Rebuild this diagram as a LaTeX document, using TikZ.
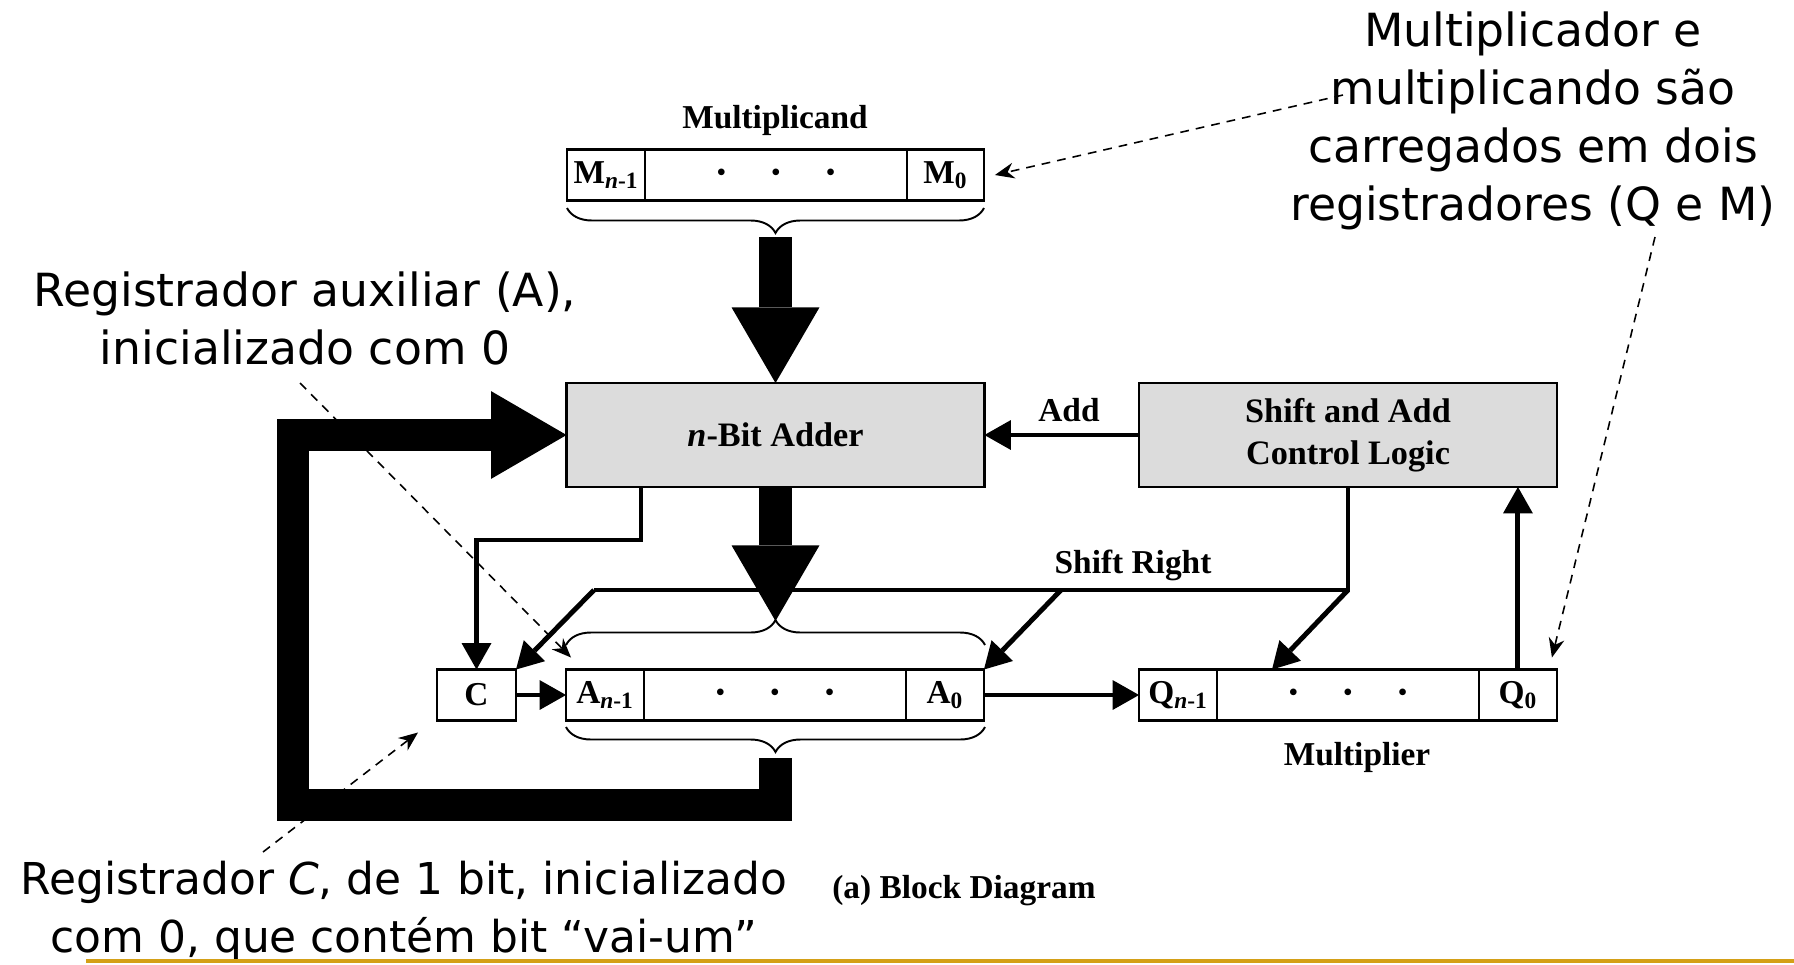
\documentclass[tikz,border=0pt]{standalone}
\usepackage{fontspec}
\setmainfont{Liberation Serif}
\newfontfamily\notefont{DejaVu Sans}
\usetikzlibrary{arrows.meta,decorations.pathreplacing,positioning}
\definecolor{rulegold}{RGB}{212,160,23}
\definecolor{boxgray}{RGB}{220,220,220}
\newcommand{\regdots}{{\fontsize{14}{14}\selectfont\textbullet\hspace{0.92cm}\textbullet\hspace{0.92cm}\textbullet}}

\begin{document}
\begin{tikzpicture}[x=0.02cm,y=-0.02cm]
\tikzstyle{every node}+=[inner sep=0pt]
\tikzstyle{cell}=[draw,line width=1.3pt,outer sep=0pt,minimum height=1.02cm,font=\fontsize{19}{21}\selectfont\bfseries]
\tikzstyle{unit}=[draw,line width=1.3pt,outer sep=0pt,fill=boxgray,minimum width=8.36cm,minimum height=2.08cm,align=center,font=\fontsize{19.5}{24}\selectfont\bfseries]
\tikzstyle{lbl}=[font=\fontsize{19}{21}\selectfont\bfseries]
\tikzstyle{wire}=[line width=2.8pt,-{Triangle[length=15pt,width=17pt,line width=0pt]}]
\tikzstyle{bus}=[line width=18.7pt,-{Triangle[length=43pt,width=50pt,line width=0pt]}]
\tikzstyle{brc}=[decorate,decoration={brace,amplitude=0.5cm},line width=1.1pt]
\tikzstyle{note}=[align=center,font=\notefont\fontsize{26}{33}\selectfont]
\tikzstyle{hint}=[line width=0.9pt,dash pattern=on 5pt off 4pt,-{Stealth[length=11pt,width=9pt]}]
\useasboundingbox (0,0) rectangle (1794,964);

% multiplicand register
\node[lbl] (mlabel) at (775,120) {Multiplicand};
\node[cell,minimum width=1.56cm] (mhi) at (606,175) {M\textsubscript{\textit{n}-1}};
\node[cell,minimum width=5.24cm,right=0pt of mhi] (mmid) {\regdots};
\node[cell,minimum width=1.54cm,right=0pt of mmid] (mlo) {M\textsubscript{0}};
\draw[brc] (984,208) -- (567,208);
\coordinate (mtip) at (775.5,237);

% adder and control
\node[unit] (adder) at (775.5,435) {\textit{n}-Bit Adder};
\node[unit] (ctrl) at (1348,435) {Shift and Add\\Control Logic};

% A, C and Q registers
\node[cell,minimum width=1.58cm] (cbox) at (476.5,695) {C};
\node[cell,minimum width=1.56cm] (ahi) at (605,695) {A\textsubscript{\textit{n}-1}};
\node[cell,minimum width=5.24cm,right=0pt of ahi] (amid) {\regdots};
\node[cell,minimum width=1.56cm,right=0pt of amid] (alo) {A\textsubscript{0}};
\draw[brc] (566,645) -- (985,645);
\draw[brc] (985,727) -- (566,727);
\coordinate (atop) at (775.5,621);
\coordinate (abot) at (775.5,758);

\node[cell,minimum width=1.56cm] (qhi) at (1178,695) {Q\textsubscript{\textit{n}-1}};
\node[cell,minimum width=5.24cm,right=0pt of qhi] (qmid) {\regdots};
\node[cell,minimum width=1.56cm,right=0pt of qmid] (qlo) {Q\textsubscript{0}};
\node[lbl] (qlabel) at (1357,757) {Multiplier};
\node[lbl] (caption) at (964,891) {(a) Block Diagram};

% data paths
\draw[bus] (mtip) -- (adder.north);
\draw[bus] (adder.south) -- (atop);
\draw[bus] (abot) |- (293,805) |- (adder.west);

% control lines
\coordinate (cout) at (641,487);
\coordinate (srR) at (1348,590);
\coordinate (srL) at (594,590);
\coordinate (srA) at (1061,590);
\draw[wire] (ctrl.west) -- (adder.east);
\node[lbl] (addlbl) at (1069,410) {Add};
\draw[wire] (cout) -- (641,540) -| (cbox.north);
\draw[line width=2.8pt] (ctrl.south) -- (srR) -- (srL);
\node[lbl] (shiftlbl) at (1133,565) {Shift Right};
\draw[wire] (srL) -- (cbox.north east);
\draw[wire] (srA) -- (alo.north east);
\draw[wire] (srR) -- ([xshift=1.1cm]qmid.north west);
\draw[wire] (qlo.north) -- (qlo.north |- ctrl.south);
\draw[wire] (alo.east) -- (qhi.west);
\draw[wire] (cbox.east) -- (ahi.west);

% notes
\node[note] (noteMQ) at (1533,121) {Multiplicador e\\multiplicando são\\carregados em dois\\registradores (Q e M)};
\node[note] (noteA) at (305,318) {Registrador auxiliar (A),\\inicializado com 0};
\node[note,font=\notefont\fontsize{25}{33}\selectfont] (noteC) at (404,911) {Registrador \textit{C}, de 1 bit, inicializado\\com 0, que contém bit “vai-um”};
\coordinate (hintM) at (1343,95);
\coordinate (hintQ) at (1655,237);
\coordinate (hintA) at (300,383);
\coordinate (hintC) at (263,852);
\draw[hint] (hintM) -- ([xshift=0.22cm]mlo.east);
\draw[hint] (hintQ) -- ([shift={(-0.1cm,0.24cm)}]qlo.north east);
\draw[hint] (hintA) -- ([shift={(0.1cm,0.24cm)}]ahi.north west);
\draw[hint] (hintC) -- ([shift={(-0.38cm,-0.24cm)}]cbox.south west);

\draw[rulegold,line width=2.5pt] (86,961) -- (1794,961);
\end{tikzpicture}
\end{document}
